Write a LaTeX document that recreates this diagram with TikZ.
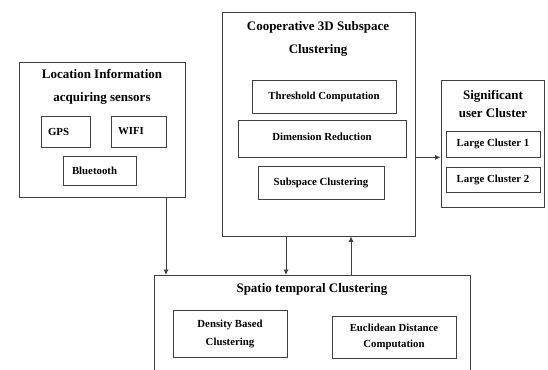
\documentclass[tikz,border=0pt]{standalone}
\usepackage{fontspec}
\setmainfont{Liberation Serif}
\usetikzlibrary{arrows.meta}
\begin{document}
\begin{tikzpicture}[x=1pt,y=-1pt,
  box/.style={draw=black!75,line width=0.8pt,inner sep=0pt},
  ttl/.style={font=\fontsize{13}{23}\selectfont\bfseries,align=center,inner sep=0pt},
  itm/.style={box,font=\fontsize{10.8}{17}\selectfont\bfseries,align=center},
  arr/.style={draw=black!75,line width=0.8pt,-{Latex[length=5.5pt,width=5pt]}}]
\useasboundingbox (0,0) rectangle (548,369);
\clip (0,0) rectangle (548,369);

% Location information box
\node[box,minimum width=166pt,minimum height=135pt] (loc) at (102,129.5) {};
\node[ttl] (locT) at (102,86.5) {Location Information\\acquiring sensors};
\node[itm,minimum width=49pt,minimum height=31pt,text width=35pt,align=left] (gps) at (65.5,131.5) {GPS};
\node[itm,minimum width=55pt,minimum height=31pt,text width=41pt,align=left] (wifi) at (138.5,131.5) {WIFI};
\node[itm,minimum width=73pt,minimum height=29pt,text width=55pt,align=left] (bt) at (99.5,170.5) {Bluetooth};

% Cooperative 3D subspace clustering box
\node[box,minimum width=193pt,minimum height=224pt] (coop) at (318.5,124) {};
\node[ttl] (coopT) at (318,38.5) {Cooperative 3D Subspace\\Clustering};
\node[itm,minimum width=144pt,minimum height=33pt] (thr) at (324,96.5) {Threshold Computation};
\node[itm,minimum width=168pt,minimum height=37pt] (dim) at (322,138.5) {\raisebox{4pt}{Dimension Reduction}};
\node[itm,minimum width=126pt,minimum height=33pt] (sub) at (321,182.5) {Subspace Clustering};

% Significant user cluster box
\node[box,minimum width=103pt,minimum height=127pt] (sig) at (492.5,143.5) {};
\node[ttl,font=\fontsize{13}{18}\selectfont\bfseries] (sigT) at (493,104) {Significant\\user Cluster};
\node[itm,minimum width=94pt,minimum height=26pt] (lc1) at (493,144) {Large Cluster 1};
\node[itm,minimum width=94pt,minimum height=25pt] (lc2) at (493,179.5) {Large Cluster 2};

% Spatio temporal clustering box
\node[box,minimum width=316pt,minimum height=130pt,anchor=north west] (spt) at (154,275) {};
\node[ttl] (sptT) at (312,289) {Spatio temporal Clustering};
\node[itm,minimum width=114pt,minimum height=47pt,font=\fontsize{10.8}{18}\selectfont\bfseries] (dens) at (230,333.5) {Density Based\\Clustering};
\node[itm,minimum width=124pt,minimum height=42pt,font=\fontsize{10.8}{16}\selectfont\bfseries] (euc) at (394,337) {Euclidean Distance\\Computation};

% connectors
\coordinate (a1) at (166,0);
\coordinate (a2) at (286,0);
\coordinate (a3) at (351,0);
\draw[arr] (loc.south -| a1) -- (spt.north -| a1);
\draw[arr] (coop.south -| a2) -- (spt.north -| a2);
\draw[arr] (spt.north -| a3) -- (coop.south -| a3);
\draw[arr] (coop.east |- dim.south) -- (sig.west |- dim.south);
\end{tikzpicture}
\end{document}
